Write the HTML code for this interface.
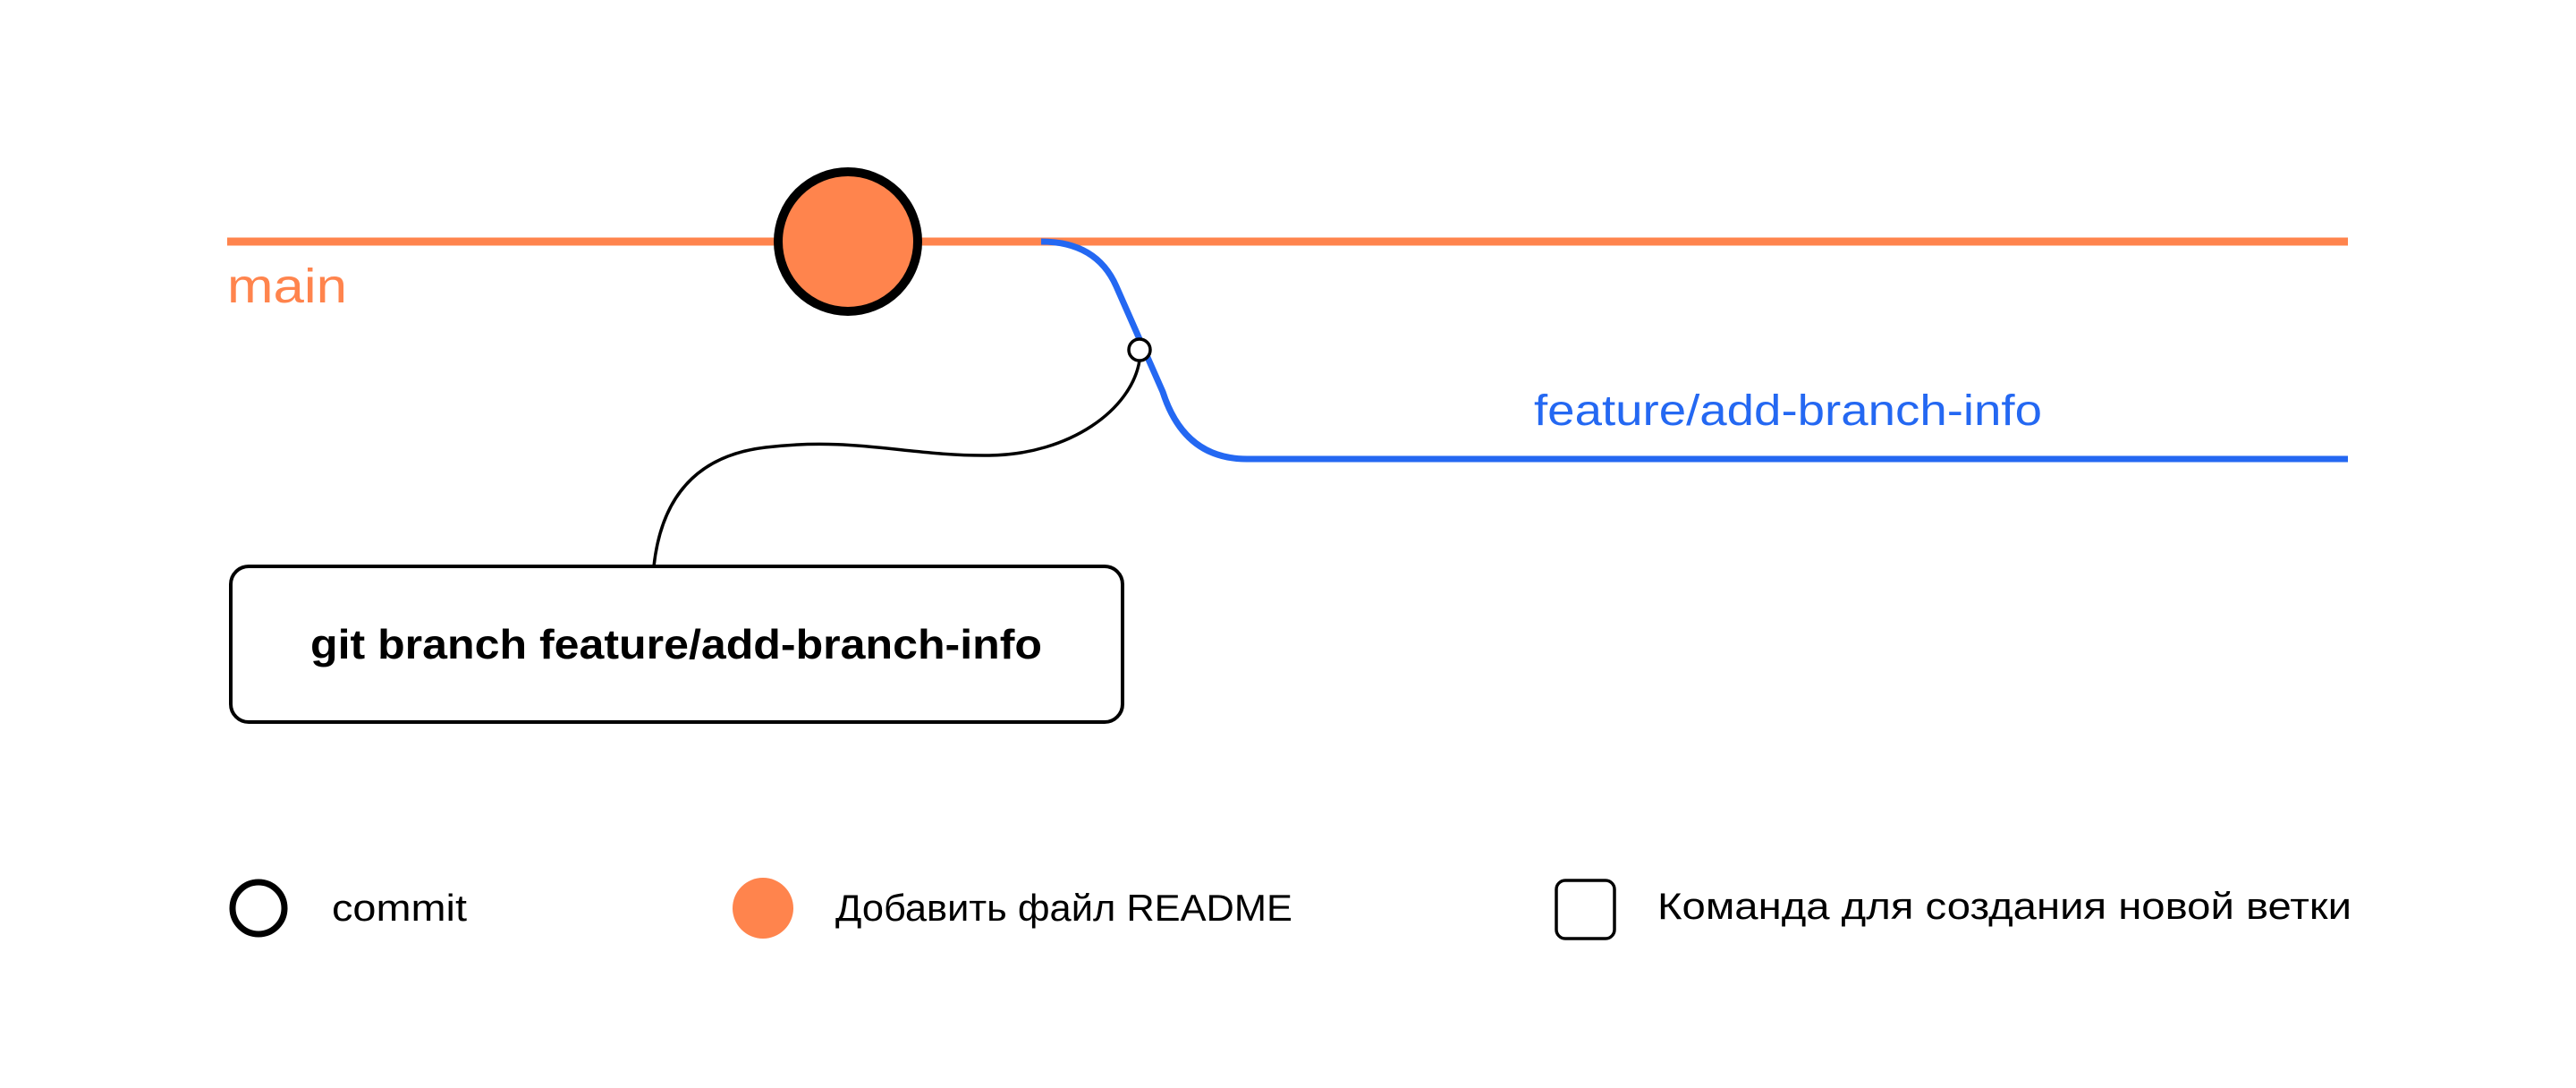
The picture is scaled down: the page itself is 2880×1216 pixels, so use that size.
<!DOCTYPE html>
<html><head><meta charset="utf-8"><style>
html,body{margin:0;padding:0;background:#fff;}
svg{display:block}
text{font-family:"Liberation Sans","DejaVu Sans",sans-serif;}
</style></head><body>
<svg width="2880" height="1216" viewBox="0 0 2880 1216" xmlns="http://www.w3.org/2000/svg">
<rect width="2880" height="1216" fill="#fff"/>
<line x1="254" y1="270" x2="2625" y2="270" stroke="#ff844d" stroke-width="9"/>
<path d="M1164 270 Q1226 270 1248 320 L1300 438 Q1324 513 1394 513 L2625 513" fill="none" stroke="#2468f2" stroke-width="7"/>
<path d="M731 633 Q744 513 856 500 C956 488 1016 510 1106 509 C1196 508 1265 458 1274 403" fill="none" stroke="#000" stroke-width="3.5"/>
<circle cx="1274" cy="391" r="12" fill="#fff" stroke="#000" stroke-width="3.5"/>
<circle cx="948" cy="270" r="78" fill="#ff844d" stroke="#000" stroke-width="10"/>
<text x="254" y="338" font-size="54" fill="#ff844d" textLength="134" lengthAdjust="spacingAndGlyphs">main</text>
<text x="1715" y="475" font-size="48" fill="#2468f2" textLength="568" lengthAdjust="spacingAndGlyphs">feature/add-branch-info</text>
<rect x="258" y="633" width="997" height="174" rx="20" fill="#fff" stroke="#000" stroke-width="4"/>
<text x="347" y="736" font-size="46" font-weight="bold" fill="#000" textLength="818" lengthAdjust="spacingAndGlyphs">git branch feature/add-branch-info</text>
<circle cx="289" cy="1015" r="29" fill="none" stroke="#000" stroke-width="7"/>
<text x="371" y="1029" font-size="42" fill="#000" textLength="151" lengthAdjust="spacingAndGlyphs">commit</text>
<circle cx="853" cy="1015" r="34" fill="#ff844d"/>
<text x="934" y="1029" font-size="42" fill="#000" textLength="511" lengthAdjust="spacingAndGlyphs">Добавить файл README</text>
<rect x="1740" y="984" width="65" height="65" rx="10" fill="none" stroke="#000" stroke-width="3.5"/>
<text x="1853" y="1027" font-size="42" fill="#000" textLength="776" lengthAdjust="spacingAndGlyphs">Команда для создания новой ветки</text>
</svg>
</body></html>
